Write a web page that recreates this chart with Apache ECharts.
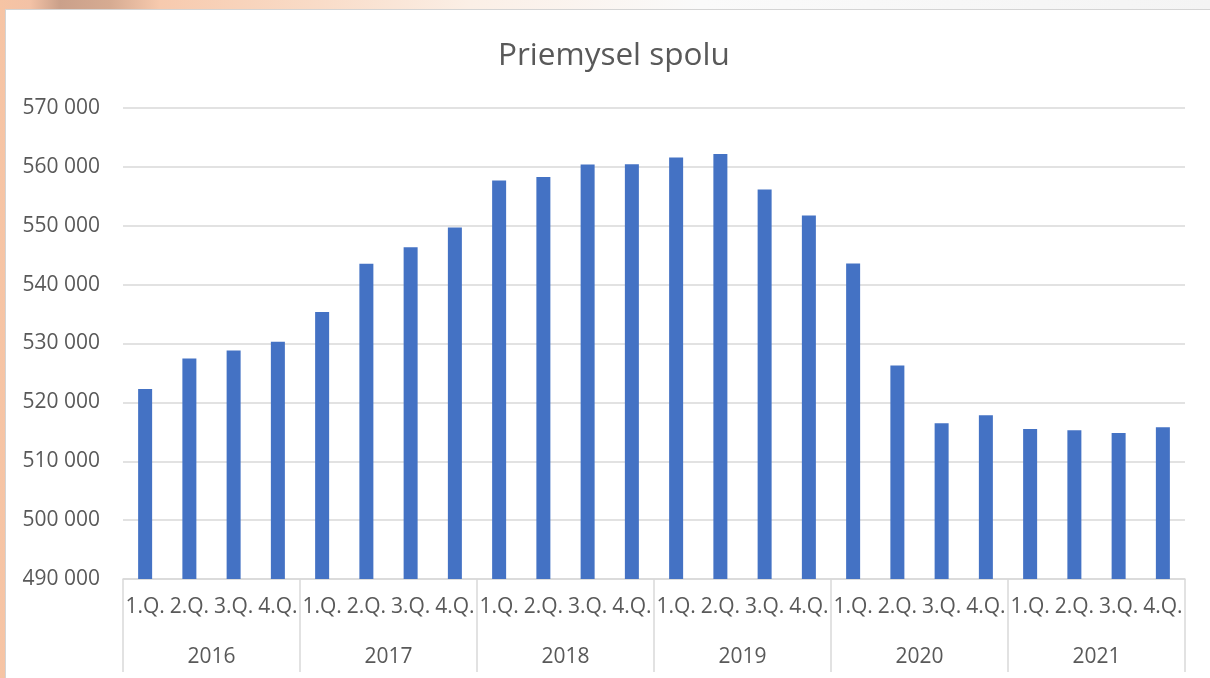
<!DOCTYPE html>
<html>
<head>
<meta charset="utf-8">
<script src="https://cdn.jsdelivr.net/npm/echarts@6/dist/echarts.min.js"></script>
<style>
    html, body {
        margin: 0;
        padding: 0;
        width: 1210px;
        height: 678px;
        overflow: hidden;
        background: linear-gradient(90deg, #f6c4a4 0px, #f3c2a6 30px, #caa08a 60px, #d6ab92 110px, #f7caae 160px, #f9dcc8 320px, #fbefe6 470px, #fafafa 700px, #f4f4f4 1210px);
    }
    #card {
        position: absolute;
        left: 5px;
        top: 9px;
        width: 1205px;
        height: 669px;
        background: #fff;
        border-top: 1px solid #d4d4d4;
        border-left: 1px solid #d4d4d4;
        box-sizing: border-box;
    }
    #chart {
        position: absolute;
        left: 0;
        top: 0;
        width: 1210px;
        height: 678px;
    }
</style>
</head>
<body>
<div id="card"></div>
<div id="chart"></div>
<script>
// data
var years = ['2016', '2017', '2018', '2019', '2020', '2021']
var quarters = ['1.Q.', '2.Q.', '3.Q.', '4.Q.']
var values = [
    522260, 527460, 528810, 530280,
    535370, 543560, 546330, 549720,
    557680, 558300, 560400, 560450,
    561580, 562200, 556160, 551750,
    543600, 526270, 516440, 517800,
    515480, 515250, 514800, 515760
]

var quarterLabels = []
for (var i = 0; i < years.length; i++) {
    for (var q of quarters) quarterLabels.push(q)
}

var textColor = '#595959'
var lineColor = '#d9d9d9'
var font = '"Open Sans", sans-serif'

//cisla s medzerou ako oddelovacom tisicov
function fmt(v) {
    return String(v).replace(/\B(?=(\d{3})+(?!\d))/g, ' ')
}

echarts.init(document.querySelector('#chart')).setOption({
    animation: false,
    title: {
        text: 'Priemysel spolu',
        left: 493,
        top: 35,
        textStyle: {
            color: textColor,
            fontFamily: font,
            fontWeight: 'normal',
            fontSize: 31.5
        }
    },
    grid: {
        left: 123,
        right: 25,
        top: 108,
        bottom: 99
    },
    xAxis: [
        {
            type: 'category',
            data: quarterLabels,
            position: 'bottom',
            axisLine: {lineStyle: {color: lineColor, width: 1.5}},
            axisTick: {show: false},
            axisLabel: {
                interval: 0,
                margin: 18,
                color: textColor,
                fontFamily: font,
                fontSize: 21
            }
        },
        {
            type: 'category',
            data: years,
            position: 'bottom',
            axisLine: {show: false},
            axisTick: {
                show: true,
                interval: 0,
                length: 93,
                lineStyle: {color: lineColor, width: 1.5}
            },
            axisLabel: {
                interval: 0,
                margin: 68,
                color: textColor,
                fontFamily: font,
                fontSize: 21
            }
        }
    ],
    yAxis: {
        type: 'value',
        min: 490000,
        max: 570000,
        interval: 10000,
        axisLine: {show: false},
        axisTick: {show: false},
        splitLine: {lineStyle: {color: lineColor, width: 1.5}},
        axisLabel: {
            margin: 23,
            color: textColor,
            fontFamily: font,
            fontSize: 21,
            formatter: fmt
        }
    },
    series: [{
        type: 'bar',
        xAxisIndex: 0,
        data: values,
        barWidth: 14,
        itemStyle: {color: '#4472c4'}
    }]
})
</script>
</body>
</html>
